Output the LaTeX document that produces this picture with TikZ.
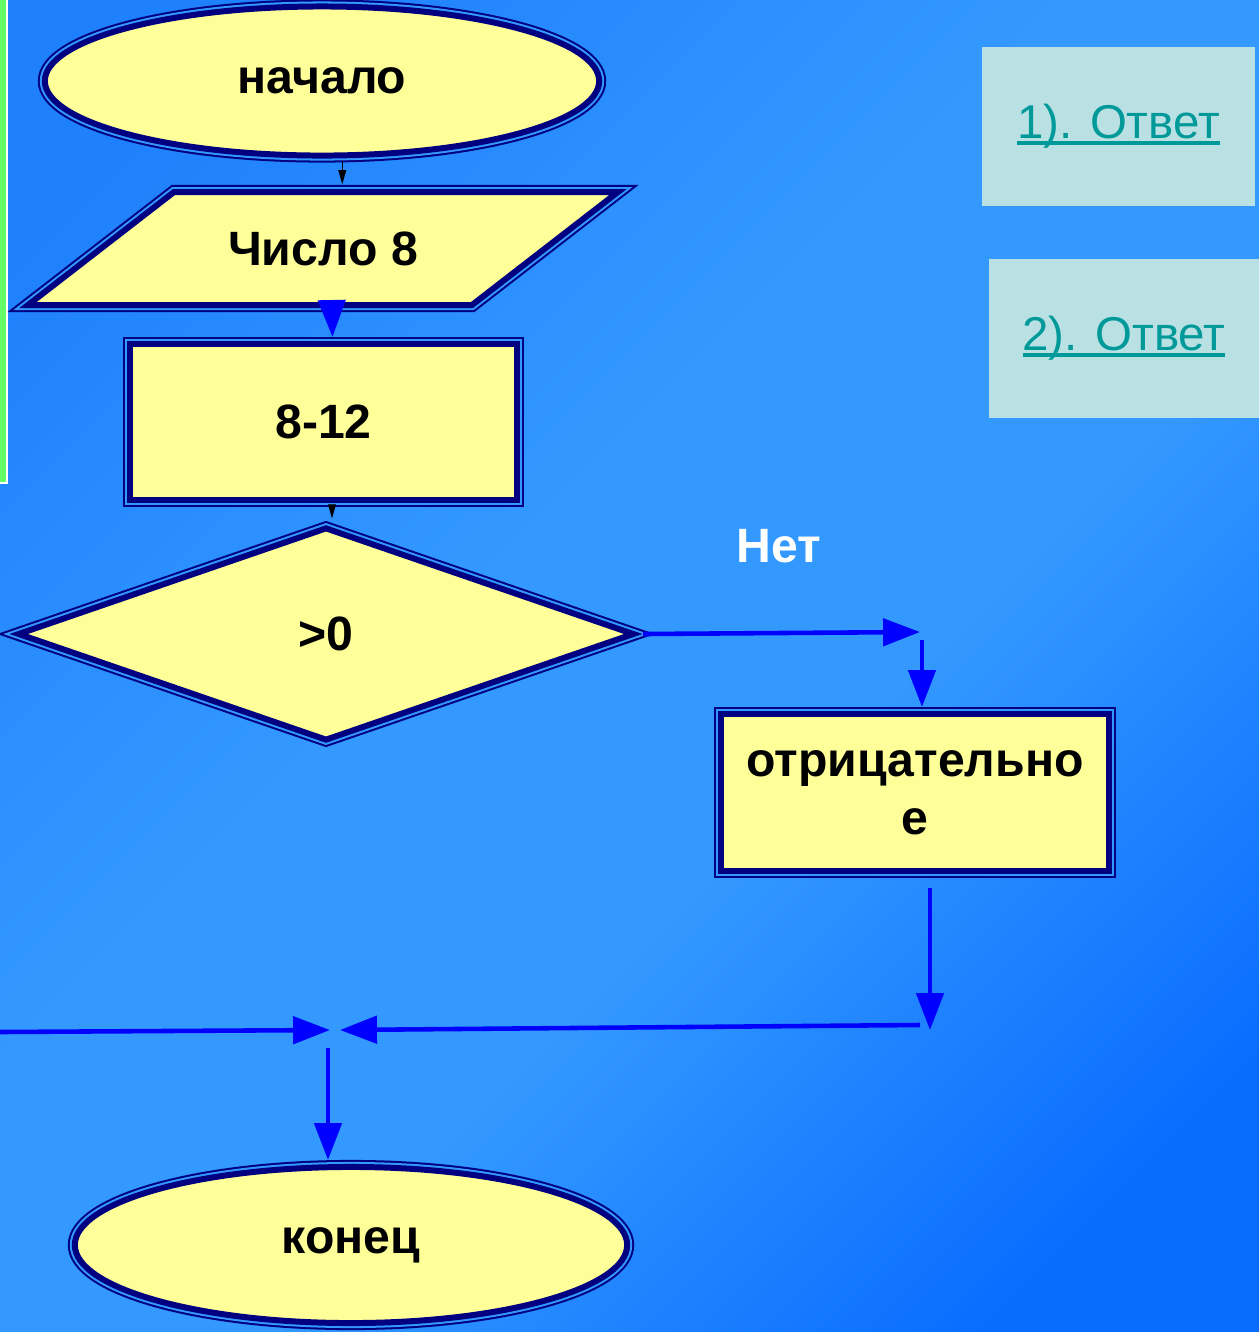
\documentclass[tikz,border=0pt]{standalone}
\usepackage{fontspec}
\setmainfont{Liberation Sans}
\usetikzlibrary{shapes.geometric,arrows.meta}

\definecolor{navy}{HTML}{000080}
\definecolor{pale}{HTML}{FFFF99}
\definecolor{gapblue}{HTML}{3399FF}
\definecolor{flowblue}{HTML}{0000FF}
\definecolor{bgA}{HTML}{1F80FC}
\definecolor{bgB}{HTML}{3399FF}
\definecolor{bgC}{HTML}{0A6CFF}
\definecolor{ansfill}{HTML}{B9E0E3}
\definecolor{anstext}{HTML}{009999}
\definecolor{bargreen}{HTML}{66FF66}

\pgfdeclareverticalshading{backdrop}{100bp}{color(0bp)=(bgC); color(22bp)=(bgC); color(42bp)=(bgB);
  color(56bp)=(bgB); color(78bp)=(bgA); color(100bp)=(bgA)}

\newcommand{\lnk}[1]{\setbox0\hbox{#1}\rlap{\rule[-1.7pt]{\wd0}{1.1pt}}\box0}

\tikzset{
  block/.style={draw=navy, line width=1.7pt, fill=pale, inner sep=0pt, outer sep=2pt,
    font=\bfseries\fontsize{13.7}{16.5}\selectfont,
    preaction={draw=navy, line width=4pt},
    preaction={draw=gapblue, line width=2.85pt}},
  label text/.style={inner sep=0pt, font=\bfseries\fontsize{13.7}{16.5}\selectfont},
  flow/.style={draw=flowblue, line width=1.3pt, -{Triangle[length=10.5pt,width=7.7pt]}},
  feed/.style={draw=black, line width=0.35pt, -{Triangle[length=4pt,width=2.2pt]}},
  answer/.style={fill=ansfill, text=anstext, inner sep=0pt, font=\fontsize{13.5}{16}\selectfont},
}

\begin{document}
\begin{tikzpicture}[x=0.01cm, y=-0.01cm]
\useasboundingbox (0,0) rectangle (1259,1332);
\shade[shading=backdrop, shading angle=45] (0,0) rectangle (1259,1332);

% green frame edge
\fill[bargreen] (0,0) rectangle (6,482);
\draw[white, line width=0.45pt] (6.8,0) -- (6.8,482.8) -- (0,482.8);

\node[block, ellipse, minimum width=5.54cm, minimum height=1.49cm] (start) at (322,81) {начало};

% input parallelogram
\draw[block] (28,305) -- (174,192) -- (618,192) -- (472,305) -- cycle;
\node[label text, minimum width=4.4cm, minimum height=1.27cm] (num) at (323,248.5) {Число 8};

\node[block, minimum width=3.87cm, minimum height=1.56cm] (calc) at (323.5,422) {8-12};
\node[block, diamond, minimum width=6.2cm, minimum height=2.17cm] (dec) at (326,634) {>0};
\node[block, minimum width=3.88cm, minimum height=1.57cm, text width=3.6cm, align=center] (neg) at (915,792.5) {отрицательно\\е};
\node[block, ellipse, minimum width=5.52cm, minimum height=1.56cm] (stop) at (351,1245) {конец};

\node[answer, minimum width=2.73cm, minimum height=1.59cm] (ans1) at (1118.5,126.5) {\lnk{1). Ответ}};
\node[answer, minimum width=2.70cm, minimum height=1.59cm] (ans2) at (1124,338.5) {\lnk{2). Ответ}};

\node[label text, text=white] (nolabel) at (779,546) {Нет};

\coordinate (noturn) at (920,632);
\coordinate (nodrop) at (922,640);
\coordinate (negdrop) at (930,1030);
\coordinate (rturn) at (920,1025);
\coordinate (rjoin) at (340,1030);
\coordinate (lfeed) at (0,1032);
\coordinate (ljoin) at (330,1030);
\coordinate (jdown) at (328,1048);

\draw[feed] (start.-76) -- (start.-76 |- num.north);
\draw[flow, shorten <=-0.15cm] ([xshift=0.09cm]num.south) -- ([xshift=0.09cm]calc.north);
\draw[feed] ([xshift=0.06cm]dec.north |- calc.south) -- ([xshift=0.06cm]dec.north);
\draw[flow] (dec.east) -- (noturn);
\draw[flow] (nodrop) -- (nodrop |- neg.north);
\draw[flow, shorten <=0.1cm] (negdrop |- neg.south) -- (negdrop);
\draw[flow] (rturn) -- (rjoin);
\draw[flow] (lfeed) -- (ljoin);
\draw[flow] (jdown) -- (jdown |- stop.north);

\end{tikzpicture}
\end{document}
